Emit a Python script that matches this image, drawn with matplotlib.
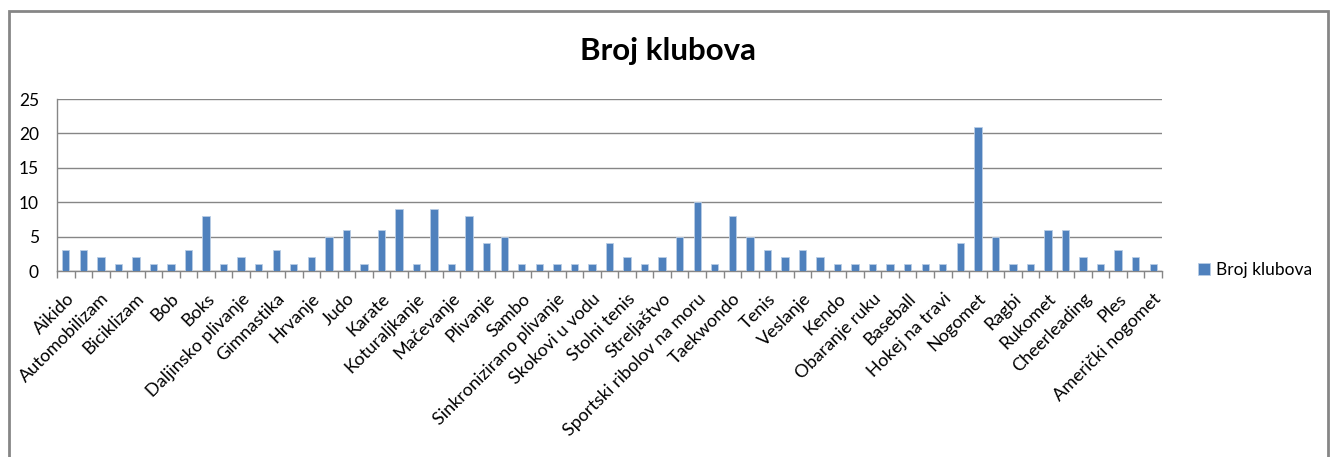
import matplotlib
matplotlib.use("Agg")
import matplotlib.pyplot as plt
from matplotlib.patches import Rectangle
import numpy as np

plt.rcParams['font.family'] = ['Lato', 'DejaVu Sans']

# Category labels (only every other category is labelled in the original chart)
categories = [
    "Aikido", "", "Automobilizam", "", "Biciklizam", "", "Bob", "", "Boks", "",
    "Daljinsko plivanje", "", "Gimnastika", "", "Hrvanje", "", "Judo", "", "Karate", "",
    "Koturaljkanje", "", "Mačevanje", "", "Plivanje", "", "Sambo", "",
    "Sinkronizirano plivanje", "", "Skokovi u vodu", "", "Stolni tenis", "",
    "Streljaštvo", "", "Sportski ribolov na moru", "", "Taekwondo", "", "Tenis", "",
    "Veslanje", "", "Kendo", "", "Obaranje ruku", "", "Baseball", "",
    "Hokej na travi", "", "Nogomet", "", "Ragbi", "", "Rukomet", "", "Cheerleading", "",
    "Ples", "", "Američki nogomet",
]
broj_klubova = [
    3, 3, 2, 1, 2, 1, 1, 3, 8, 1, 2, 1, 3, 1, 2, 5, 6,
    1, 6, 9, 1, 9, 1, 8, 4, 5, 1, 1, 1, 1, 1, 4, 2, 1, 2, 5,
    10, 1, 8, 5, 3, 2, 3, 2, 1, 1, 1, 1, 1, 1, 1, 4, 21,
    5, 1, 1, 6, 6, 2, 1, 3, 2, 1,
]
series_name = "Broj klubova"
title = "Broj klubova"
y_ticks = [0, 5, 10, 15, 20, 25]

W, H = 1335, 457
fig = plt.figure(figsize=(W / 100, H / 100), dpi=100)

left, right, top, bottom = 57, 1162, 99, 271
ax = fig.add_axes([left / W, 1 - bottom / H, (right - left) / W, (bottom - top) / H])

x = np.arange(len(categories))
bar_color = "#4F81BD"
ax.bar(x, broj_klubova, width=0.42, color=bar_color, edgecolor="#B9CDE5",
       linewidth=0.6, label=series_name, zorder=3)

ax.set_xlim(-0.5, len(categories) - 0.5)
ax.set_ylim(0, 25)
ax.set_yticks(y_ticks)
ax.set_yticklabels([str(t) for t in y_ticks], fontsize=12.5, color="#000000")
ax.tick_params(axis='y', length=0, pad=13)
ax.yaxis.grid(True, color="#868686", linewidth=1.0, zorder=0)

# Major ticks at category boundaries (tick marks only)
ax.set_xticks(np.arange(-0.5, len(categories), 1.0))
ax.set_xticklabels([])
ax.tick_params(axis='x', which='major', length=5, color="#868686", width=1, direction='out')
# Labels on every other category
lab_pos = x[::2]
ax.set_xticks(lab_pos, minor=True)
ax.set_xticklabels([categories[i] for i in lab_pos], minor=True, rotation=45,
                   ha='right', rotation_mode='anchor', fontsize=13)
ax.tick_params(axis='x', which='minor', length=0, pad=14)

for s in ['top', 'right']:
    ax.spines[s].set_visible(False)
ax.spines['left'].set_color("#868686")
ax.spines['bottom'].set_color("#868686")
ax.spines['left'].set_linewidth(1.0)
ax.spines['bottom'].set_linewidth(1.0)

fig.text(668 / W, 1 - 51 / H, title, ha='center', va='center',
         fontsize=22.5, fontweight='bold', color="#000000")

leg = fig.legend(loc='center left', bbox_to_anchor=(1198 / W, 1 - 270 / H),
                 frameon=False, fontsize=12.5, handlelength=0.7, handleheight=0.7,
                 handletextpad=0.35, borderaxespad=0, borderpad=0)

# Outer chart border
fig.patches.append(Rectangle((9 / W, -0.05), (1328 - 9) / W, 1.05 - 11 / H,
                             transform=fig.transFigure, fill=False,
                             edgecolor="#868686", linewidth=2))

fig.savefig("out.png", dpi=100)
